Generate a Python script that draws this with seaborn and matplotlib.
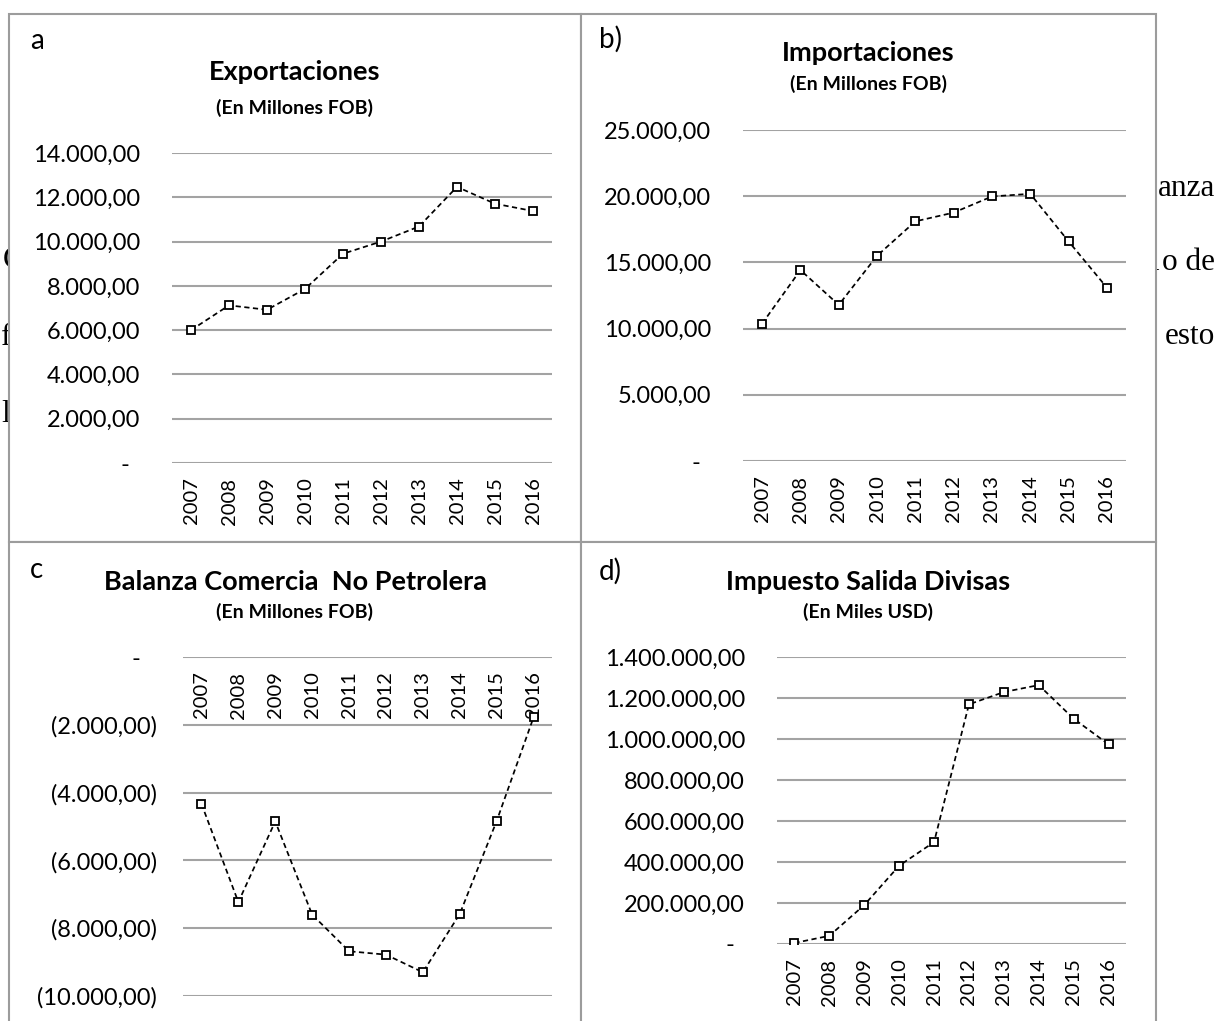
import matplotlib
matplotlib.use("Agg")
import matplotlib.pyplot as plt
from matplotlib.patches import Rectangle
from matplotlib.ticker import FuncFormatter
import seaborn as sns
import pandas as pd

# ---- data -------------------------------------------------------------
years = ["2007", "2008", "2009", "2010", "2011",
         "2012", "2013", "2014", "2015", "2016"]

exportaciones = [6000, 7120, 6920, 7860, 9450, 10000, 10680, 12470, 11710, 11380]
importaciones = [10380, 14420, 11790, 15500, 18100, 18760, 19980, 20180, 16590, 13100]
balanza_no_petrolera = [-4330, -7230, -4850, -7600, -8680, -8780, -9300, -7580, -4840, -1780]
impuesto_salida_divisas = [5000, 40000, 190000, 382000, 497000,
                           1169000, 1229000, 1263000, 1099000, 974000]

ticks_export = [0, 2000, 4000, 6000, 8000, 10000, 12000, 14000]
ticks_import = [0, 5000, 10000, 15000, 20000, 25000]
ticks_balanza = [-10000, -8000, -6000, -4000, -2000, 0]
ticks_isd = [0, 200000, 400000, 600000, 800000, 1000000, 1200000, 1400000]

# ---- style ------------------------------------------------------------
sns.set_theme(style="white")
plt.rcParams["font.family"] = ["Lato", "DejaVu Sans"]
plt.rcParams["axes.unicode_minus"] = False

W, H = 1219, 1021
fig = plt.figure(figsize=(W / 100, H / 100), dpi=100)
fig.patch.set_facecolor("white")

GRID = "#a3a3a3"
BORDER = "#9c9c9c"


def fx(px):
    return px / W


def fy(py):
    return 1 - py / H


def accounting(v, _pos=None):
    """Spanish accounting style: 12.000,00 / (2.000,00) / -"""
    if abs(v) < 1e-9:
        return "-"
    s = f"{abs(v):,.2f}".replace(",", "X").replace(".", ",").replace("X", ".")
    return f"({s})" if v < 0 else s


# ---- running document text behind the chart panels --------------------
serif = dict(family="Liberation Serif", fontsize=22.5, color="black", zorder=-3)
fig.text(fx(1215), fy(196), "anza", ha="right", va="baseline", **serif)
fig.text(fx(1215), fy(270), "o de", ha="right", va="baseline", **serif)
fig.text(fx(1159), fy(270), "l", ha="right", va="baseline", **serif)
fig.text(fx(1215), fy(344), "esto", ha="right", va="baseline", **serif)
fig.text(fx(3), fy(268), "C", ha="left", va="baseline", **serif)
fig.text(fx(1), fy(345), "f", ha="left", va="baseline", **serif)
fig.text(fx(1), fy(422), "l", ha="left", va="baseline", **serif)

# ---- panel frames -----------------------------------------------------
frames = [(9, 14, 581, 542), (581, 14, 1156, 542),
          (9, 542, 581, 1040), (581, 542, 1156, 1040)]
for x0, y0, x1, y1 in frames:
    fig.add_artist(Rectangle((fx(x0), fy(y1)), (x1 - x0) / W, (y1 - y0) / H,
                             transform=fig.transFigure, facecolor="white",
                             edgecolor=BORDER, linewidth=1.5, zorder=-1))


def make_panel(box, values, ticks, letter, letter_xy, title, title_xy,
               subtitle, subtitle_xy, axis_at_top=False):
    left, right, top, bottom = box
    ax = fig.add_axes([fx(left), fy(bottom), (right - left) / W, (bottom - top) / H])
    ax.set_facecolor("none")

    df = pd.DataFrame({"year": years, "value": values})
    sns.lineplot(data=df, x="year", y="value", ax=ax, sort=False, errorbar=None,
                 color="black", linewidth=1.25, linestyle=(0, (3.0, 2.0)),
                 marker="s", markersize=6.3, markerfacecolor="white",
                 markeredgecolor="black", markeredgewidth=1.3, zorder=3)

    ax.set_xlim(-0.5, len(years) - 0.5)
    ax.set_ylim(ticks[0], ticks[-1])
    ax.set_yticks(ticks)
    ax.yaxis.set_major_formatter(FuncFormatter(accounting))
    ax.set_xlabel("")
    ax.set_ylabel("")
    for sp in ax.spines.values():
        sp.set_visible(False)
    if axis_at_top:
        ax.spines["bottom"].set_position(("data", 0))

    ax.grid(axis="y", color=GRID, linewidth=1.5)
    ax.grid(axis="x", visible=False)
    ax.tick_params(axis="both", length=0)
    ax.tick_params(axis="y", labelsize=17, colors="black")
    ax.tick_params(axis="x", labelsize=14.5, labelrotation=90, pad=10.5,
                   colors="black")

    for tick, v in zip(ax.yaxis.get_major_ticks(len(ticks)), ticks):
        if v == 0:
            tick.set_pad(31)
        elif v < 0:
            tick.set_pad(18.7)
        else:
            tick.set_pad(23)

    fig.text(fx(letter_xy[0]), fy(letter_xy[1]), letter, ha="left",
             va="baseline", fontsize=20, color="black")
    fig.text(fx(title_xy[0]), fy(title_xy[1]), title, ha="center",
             va="baseline", fontsize=19.5, fontweight="bold", color="black")
    fig.text(fx(subtitle_xy[0]), fy(subtitle_xy[1]), subtitle, ha="center",
             va="baseline", fontsize=14, fontweight="bold", color="black")
    return ax


make_panel((172, 552, 153, 463), exportaciones, ticks_export,
           "a", (30, 49), "Exportaciones", (295, 80),
           "(En Millones FOB)", (295, 114))

make_panel((743, 1126, 130, 461), importaciones, ticks_import,
           "b)", (599, 48), "Importaciones", (868, 61),
           "(En Millones FOB)", (868, 90))

make_panel((183, 552, 657, 996), balanza_no_petrolera, ticks_balanza,
           "c", (30, 578), "Balanza Comercia  No Petrolera", (295, 590),
           "(En Millones FOB)", (295, 618), axis_at_top=True)

make_panel((777, 1126, 657, 944), impuesto_salida_divisas, ticks_isd,
           "d)", (599, 580), "Impuesto Salida Divisas", (868, 590),
           "(En Miles USD)", (868, 618))

fig.savefig("out.png", dpi=100, facecolor="white")
